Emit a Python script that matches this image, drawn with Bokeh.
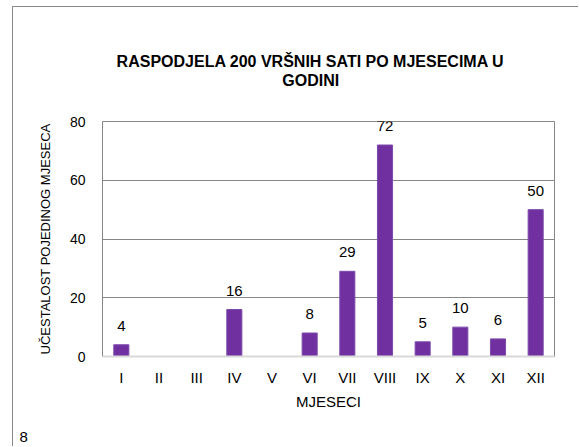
from bokeh.plotting import figure
from bokeh.models import ColumnDataSource, LabelSet, Title, FixedTicker
from bokeh.core.properties import value
from bokeh.embed import file_html
from bokeh.resources import INLINE

months = ["I", "II", "III", "IV", "V", "VI", "VII", "VIII", "IX", "X", "XI", "XII"]
counts = [4, 0, 0, 16, 0, 8, 29, 72, 5, 10, 6, 50]
y_ticks = [0, 20, 40, 60, 80]
title_line1 = "RASPODJELA 200 VRŠNIH SATI PO MJESECIMA U"
title_line2 = "GODINI"
x_title = "MJESECI"
y_title = "UČESTALOST POJEDINOG MJESECA"
page_number = "8"

FONT = "Liberation Sans"
NB = "\u00a0" * 8  # shifts the centred title lines left, as in the original

src = ColumnDataSource(dict(
    m=months, c=counts,
    lab=[str(v) if v else "" for v in counts],
))

p = figure(x_range=months, y_range=(0, 80), width=566, height=440,
           title=None, output_backend="svg", toolbar_location=None,
           min_border_left=89, min_border_right=25,
           min_border_top=114, min_border_bottom=91)
p.styles = {"margin-left": "12px", "margin-top": "6px",
            "border-left": "1px solid #8a8a8a",
            "border-top": "1px solid #8a8a8a"}
p.x_range.range_padding = 0

p.vbar(x="m", top="c", width=0.4, source=src,
       fill_color="#7030A0", line_color="#7d4aab", line_width=1)

p.add_layout(LabelSet(x="m", y="c", text="lab", source=src, y_offset=14,
                      text_align="center", text_baseline="alphabetic",
                      text_font=value(FONT), text_font_size=value("15px"),
                      text_color="#000000"))


def ttl(text, size, style="bold", standoff=0, align="center", offset=0):
    return Title(text=text, align=align, offset=offset, standoff=standoff,
                 vertical_align="bottom", text_font=FONT,
                 text_font_size=size, text_font_style=style,
                 text_color="#000000")


# above: spacer, second title line, first title line (outward from the frame)
p.add_layout(ttl("\u00a0", "1px", standoff=30), "above")
p.add_layout(ttl(title_line2 + NB, "16px"), "above")
p.add_layout(ttl(title_line1 + NB, "16px"), "above")

# below: spacer then page number
p.add_layout(ttl("\u00a0", "1px", standoff=14), "below")
p.add_layout(ttl(page_number, "15px", style="normal", align="left", offset=-83), "below")

p.outline_line_color = "#868686"
p.background_fill_color = "white"
p.border_fill_color = "white"

p.xgrid.grid_line_color = None
p.ygrid.grid_line_color = "#868686"
p.ygrid.grid_line_width = 1
p.yaxis.ticker = FixedTicker(ticks=y_ticks)

p.yaxis.axis_line_color = None
p.yaxis.major_tick_line_color = None
p.yaxis.minor_tick_line_color = None
p.yaxis.major_tick_out = 0
p.yaxis.major_tick_in = 0
p.yaxis.major_label_standoff = 17
p.yaxis.major_label_text_font = FONT
p.yaxis.major_label_text_font_size = "14px"
p.yaxis.major_label_text_color = "#000000"
p.yaxis.axis_label = y_title
p.yaxis.axis_label_text_font = FONT
p.yaxis.axis_label_text_font_size = "13px"
p.yaxis.axis_label_text_font_style = "normal"
p.yaxis.axis_label_text_color = "#000000"
p.yaxis.axis_label_standoff = 14

p.xaxis.axis_line_color = "#d9d9d9"
p.xaxis.axis_line_width = 2
p.xaxis.major_tick_line_color = None
p.xaxis.major_tick_out = 0
p.xaxis.major_tick_in = 0
p.xaxis.major_label_standoff = 12
p.xaxis.major_label_text_font = FONT
p.xaxis.major_label_text_font_size = "15px"
p.xaxis.major_label_text_color = "#000000"
p.xaxis.axis_label = x_title
p.xaxis.axis_label_text_font = FONT
p.xaxis.axis_label_text_font_size = "15px"
p.xaxis.axis_label_text_font_style = "normal"
p.xaxis.axis_label_text_color = "#000000"
p.xaxis.axis_label_standoff = 4

open("out.html", "w").write(file_html(p, INLINE))
